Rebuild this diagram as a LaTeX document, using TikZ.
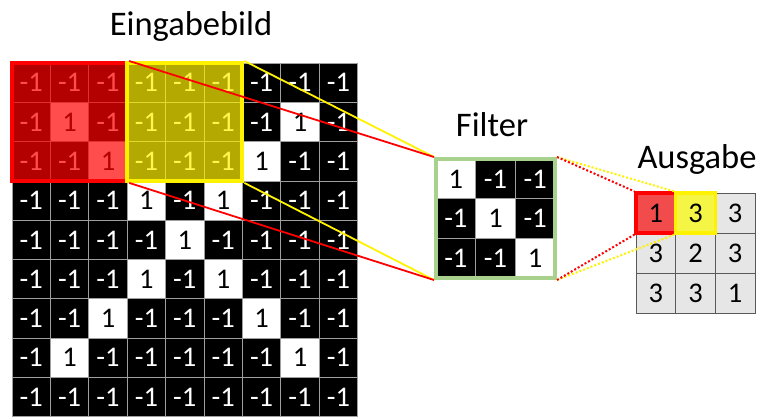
\documentclass[tikz,border=0pt]{standalone}
\usepackage{fontspec}
\setmainfont{Carlito}
\definecolor{filtgreen}{HTML}{A9D18E}
\definecolor{outgray}{HTML}{E6E6E6}
\definecolor{outred}{HTML}{F24B4B}
\definecolor{outyel}{HTML}{F5F546}
\begin{document}
\begin{tikzpicture}[x=1pt,y=-1pt,
  cellneg/.style={draw=gray!75,line width=0.8pt,fill=black,text=white,
    minimum width=38.4pt,minimum height=39.3pt,inner sep=0pt,
    font=\fontsize{28.5}{28.5}\selectfont},
  cellpos/.style={cellneg,fill=white,text=black},
  fneg/.style={cellneg,minimum width=39.67pt,minimum height=39.67pt},
  fpos/.style={fneg,fill=white,text=black},
  ocell/.style={draw=black!65,line width=1pt,fill=outgray,text=black,
    minimum width=39.67pt,minimum height=40pt,inner sep=0pt,
    font=\fontsize{28.5}{28.5}\selectfont},
  winbox/.style={line width=4pt,minimum width=115.2pt,minimum height=117.9pt,
    inner sep=0pt,fill opacity=0.7},
  label/.style={anchor=base,font=\fontsize{34.5}{34.5}\selectfont},
  solidcon/.style={line width=1.8pt},
  dotcon/.style={line width=2pt,dash pattern=on 2pt off 2pt}
]
\useasboundingbox (0,0) rectangle (759,416);

% input image
\foreach \row [count=\r] in {
  {-1,-1,-1,-1,-1,-1,-1,-1,-1},
  {-1,1,-1,-1,-1,-1,-1,1,-1},
  {-1,-1,1,-1,-1,-1,1,-1,-1},
  {-1,-1,-1,1,-1,1,-1,-1,-1},
  {-1,-1,-1,-1,1,-1,-1,-1,-1},
  {-1,-1,-1,1,-1,1,-1,-1,-1},
  {-1,-1,1,-1,-1,-1,1,-1,-1},
  {-1,1,-1,-1,-1,-1,-1,1,-1},
  {-1,-1,-1,-1,-1,-1,-1,-1,-1}} {
  \foreach \v [count=\c] in \row {
    \ifnum\v=1
      \node[cellpos] (g-\r-\c) at ({12+38.4*(\c-0.5)},{63+39.3*(\r-0.5)}) {\v};
    \else
      \node[cellneg] (g-\r-\c) at ({12+38.4*(\c-0.5)},{63+39.3*(\r-0.5)}) {\v};
    \fi
  }
}

% windows
\node[winbox,draw=red,fill=red] (win1) at (69.6,121.95) {};
\node[winbox,draw=yellow,fill=yellow] (win2) at (184.8,121.95) {};

% filter
\foreach \row [count=\r] in {{1,-1,-1},{-1,1,-1},{-1,-1,1}} {
  \foreach \v [count=\c] in \row {
    \ifnum\v=1
      \node[fpos] (f-\r-\c) at ({436+39.67*(\c-0.5)},{159+39.67*(\r-0.5)}) {\v};
    \else
      \node[fneg] (f-\r-\c) at ({436+39.67*(\c-0.5)},{159+39.67*(\r-0.5)}) {\v};
    \fi
  }
}
\node[draw=filtgreen,line width=4pt,minimum size=119pt,inner sep=0pt] (filt) at (495.5,218.5) {};

% output
\foreach \row [count=\r] in {{1,3,3},{3,2,3},{3,3,1}} {
  \foreach \v [count=\c] in \row {
    \node[ocell] (o-\r-\c) at ({636+39.67*(\c-0.5)},{193+40*(\r-0.5)}) {\v};
  }
}
\node[ocell,draw=red,line width=3.5pt,fill=outred] (ored) at (o-1-1) {1};
\node[ocell,draw=yellow,line width=3.5pt,fill=outyel] (oyel) at (o-1-2) {3};

% connectors
\draw[yellow,solidcon] (win2.north east) -- (filt.north west);
\draw[yellow,solidcon] (win2.south east) -- (filt.south west);
\draw[red,solidcon] (win1.north east) -- (filt.north west);
\draw[red,solidcon] (win1.south east) -- (filt.south west);

\draw[yellow,dotcon] (filt.north east) -- (oyel.north west);
\draw[red,dotcon] (filt.north east) -- (ored.north west);
\draw[yellow,dotcon] (filt.south east) -- (oyel.south west);
\draw[red,dotcon] (filt.south east) -- (ored.south west);

% labels
\node[label] (lin) at (191,35) {Eingabebild};
\node[label] (lf) at (492,136) {Filter};
\node[label] (lout) at (697,168) {Ausgabe};
\end{tikzpicture}
\end{document}
